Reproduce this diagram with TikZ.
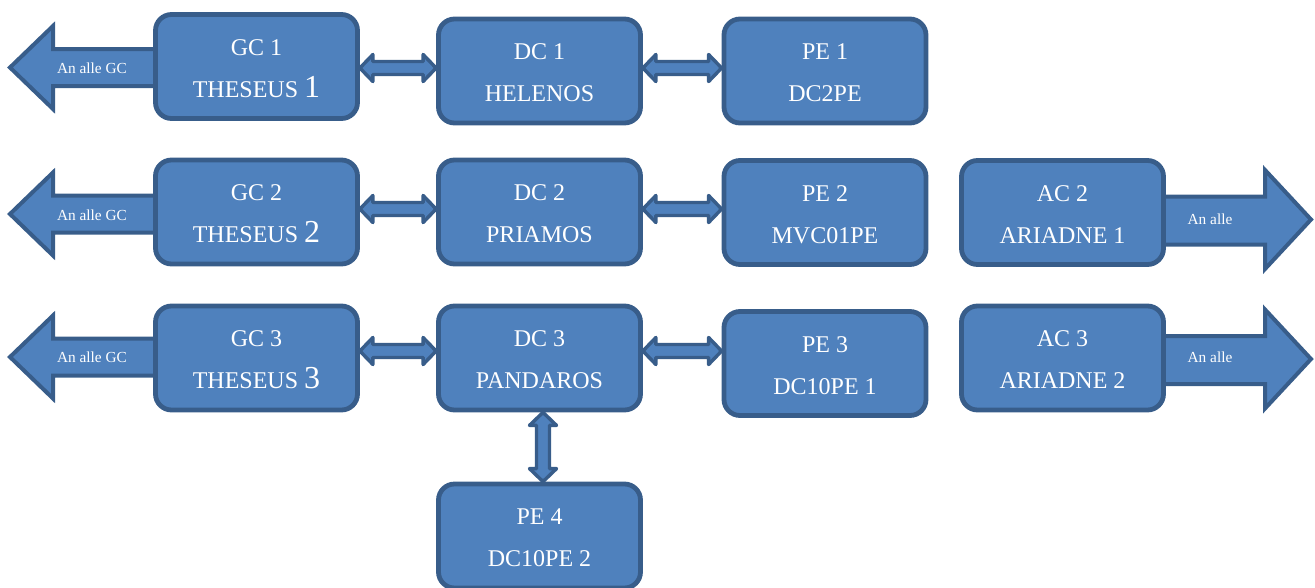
\documentclass[tikz,border=0pt]{standalone}
\usepackage{fontspec}
\setmainfont{Liberation Serif}
\usetikzlibrary{calc,backgrounds}
\definecolor{boxfill}{HTML}{4F81BD}
\definecolor{boxline}{HTML}{385D8A}
\newcommand\hdbl[3]{%
  \path (#1.east |- 0,#3) coordinate (hA) (#2.west |- 0,#3) coordinate (hB);
  \draw[dbl] (hA) -- ++(13,-13.5) -- ++(0,7) -- ($(hB)+(-13,-6.5)$) -- ++(0,-7) -- (hB)
    -- ++(-13,13.5) -- ++(0,-7) -- ($(hA)+(13,6.5)$) -- ++(0,7) -- cycle;}
\begin{document}
\begin{tikzpicture}[x=0.75pt,y=-0.75pt,
  box/.style={draw=boxline, fill=boxfill, line width=3.6pt, rounded corners=12pt,
    minimum width=151.5pt, minimum height=78pt, inner sep=0pt},
  big/.style={draw=boxline, fill=boxfill, line width=3pt, line join=miter},
  dbl/.style={draw=boxline, fill=boxfill, line width=2.6pt, line join=round},
  lone/.style={text=white, font=\fontsize{18}{18}\selectfont, anchor=base, yshift=8.6pt},
  ltwo/.style={text=white, font=\fontsize{18}{18}\selectfont, anchor=base, yshift=-22.9pt},
  small/.style={text=white, font=\fontsize{11.5}{12}\selectfont}]
\useasboundingbox (0,0) rectangle (1315,587);
\newcommand\bignum[1]{{\fontsize{24}{24}\selectfont #1}}
% boxes
\node[box] (gc1) at (256.5,66.5) {};
\node[box] (dc1) at (539.5,71) {};
\node[box] (pe1) at (825,71) {};
\node[box] (gc2) at (256.5,212) {};
\node[box] (dc2) at (539.5,212) {};
\node[box] (pe2) at (825,212.5) {};
\node[box] (ac2) at (1062.5,212.5) {};
\node[box] (gc3) at (256.5,358) {};
\node[box] (dc3) at (539.5,358) {};
\node[box] (pe3) at (825,363.5) {};
\node[box] (ac3) at (1062.5,358) {};
\node[box] (pe4) at (539.5,536) {};
% texts
\node[lone] (gc1a) at (gc1.center) {GC 1};
\node[ltwo] (gc1b) at (gc1.center) {THESEUS \bignum{1}};
\node[lone] (dc1a) at (dc1.center) {DC 1};
\node[ltwo] (dc1b) at (dc1.center) {HELENOS};
\node[lone] (pe1a) at (pe1.center) {PE 1};
\node[ltwo] (pe1b) at (pe1.center) {DC2PE};
\node[lone] (gc2a) at (gc2.center) {GC 2};
\node[ltwo] (gc2b) at (gc2.center) {THESEUS \bignum{2}};
\node[lone] (dc2a) at (dc2.center) {DC 2};
\node[ltwo] (dc2b) at (dc2.center) {PRIAMOS};
\node[lone] (pe2a) at (pe2.center) {PE 2};
\node[ltwo] (pe2b) at (pe2.center) {MVC01PE};
\node[lone] (ac2a) at (ac2.center) {AC 2};
\node[ltwo] (ac2b) at (ac2.center) {ARIADNE 1};
\node[lone] (gc3a) at (gc3.center) {GC 3};
\node[ltwo] (gc3b) at (gc3.center) {THESEUS \bignum{3}};
\node[lone] (dc3a) at (dc3.center) {DC 3};
\node[ltwo] (dc3b) at (dc3.center) {PANDAROS};
\node[lone] (pe3a) at (pe3.center) {PE 3};
\node[ltwo] (pe3b) at (pe3.center) {DC10PE 1};
\node[lone] (ac3a) at (ac3.center) {AC 3};
\node[ltwo] (ac3b) at (ac3.center) {ARIADNE 2};
\node[lone] (pe4a) at (pe4.center) {PE 4};
\node[ltwo] (pe4b) at (pe4.center) {DC10PE 2};
% big arrows behind boxes
\begin{scope}[on background layer]
\coordinate (lt1) at (10,67.5);
\coordinate (lt2) at (10,214);
\coordinate (lt3) at (10,357);
\coordinate (rt2) at (1311,219.5);
\coordinate (rt3) at (1311,359);
\draw[big] (lt1) -- ++(43,-41.5) -- ++(0,23) -- (gc1.center |- 0,49) -- (gc1.center |- 0,86)
  -- ($(lt1)+(43,18.5)$) -- ++(0,23) -- cycle;
\draw[big] (lt2) -- ++(43,-41.5) -- ++(0,23) -- (gc2.center |- 0,195.5) -- (gc2.center |- 0,232.5)
  -- ($(lt2)+(43,18.5)$) -- ++(0,23) -- cycle;
\draw[big] (lt3) -- ++(43,-41.5) -- ++(0,23) -- (gc3.center |- 0,338.5) -- (gc3.center |- 0,375.5)
  -- ($(lt3)+(43,18.5)$) -- ++(0,23) -- cycle;
\draw[big] (rt2) -- ++(-46,-49.5) -- ++(0,26.5) -- (ac2.center |- 0,196.5) -- (ac2.center |- 0,244.5)
  -- ($(rt2)+(-46,25)$) -- ++(0,24.5) -- cycle;
\draw[big] (rt3) -- ++(-46,-49.5) -- ++(0,26.5) -- (ac3.center |- 0,336) -- (ac3.center |- 0,384)
  -- ($(rt3)+(-46,25)$) -- ++(0,24.5) -- cycle;
\end{scope}
\node[small] (al1) at (92,68) {An alle GC};
\node[small] (al2) at (92,215) {An alle GC};
\node[small] (al3) at (92,357) {An alle GC};
\node[small] (ar2) at (1210,219) {An alle};
\node[small] (ar3) at (1210,357) {An alle};
% double arrows
\hdbl{gc1}{dc1}{68}
\hdbl{dc1}{pe1}{68}
\hdbl{gc2}{dc2}{209}
\hdbl{dc2}{pe2}{209}
\hdbl{gc3}{dc3}{351}
\hdbl{dc3}{pe3}{351}
\path (dc3.south -| 543,0) coordinate (vA) (pe4.north -| 543,0) coordinate (vB);
\draw[dbl] (vA) -- ++(-13.5,13) -- ++(7,0) -- ($(vB)+(-6.5,-13)$) -- ++(-7,0) -- (vB)
  -- ++(13.5,-13) -- ++(-7,0) -- ($(vA)+(6.5,13)$) -- ++(7,0) -- cycle;
\end{tikzpicture}
\end{document}
